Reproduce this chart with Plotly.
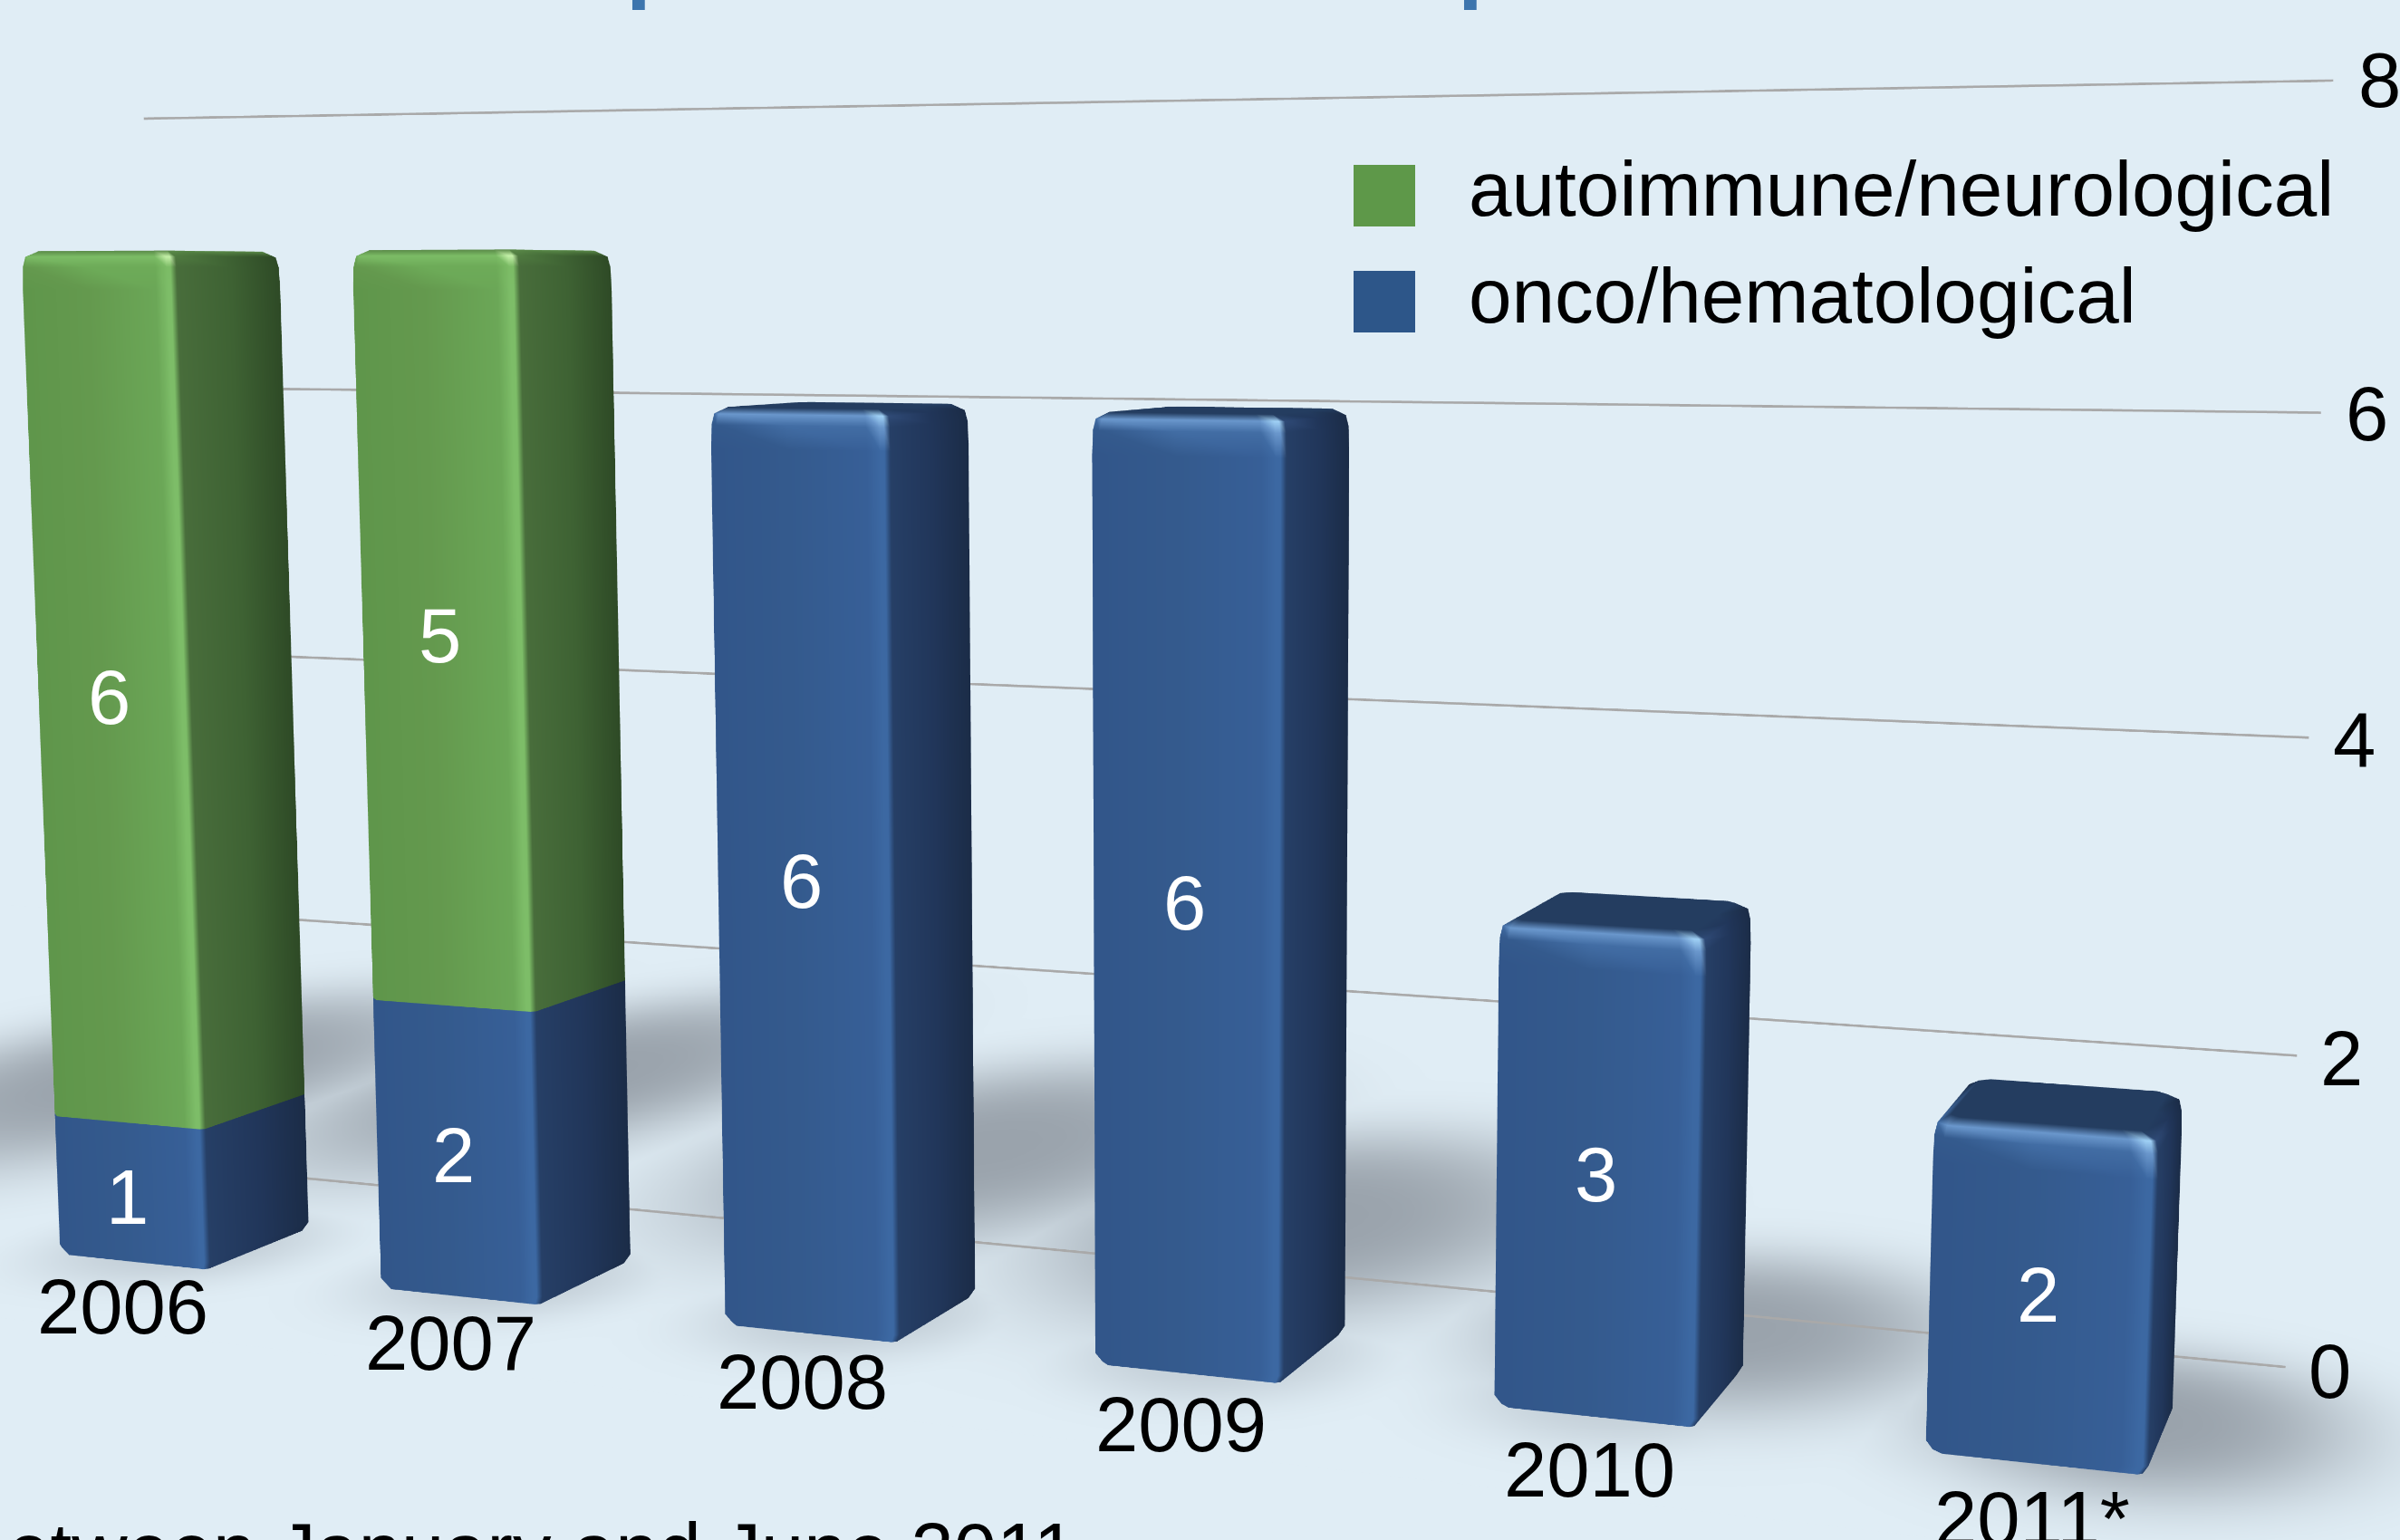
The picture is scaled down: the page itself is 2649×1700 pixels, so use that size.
import math
import numpy as np
import plotly.graph_objects as go

# ---- data ----
years = ["2006", "2007", "2008", "2009", "2010", "2011*"]
onco_hematological = [1, 2, 6, 6, 3, 2]
autoimmune_neurological = [6, 5, 0, 0, 0, 0]
z_ticks = [0, 2, 4, 6, 8]

# ---- styles / layout ----
BG = "#e0edf5"
W, H, TOP = 2649, 3500, 900
BAR_X0, PITCH, BAR_W, BAR_D, BAR_Y0 = -14.95, 2.625, 1.28, 1.30, -2.6
XR, YR, ZR = [-26.0, 2.0], [-4.0, 10.0], [-0.1, 8.5]
K = 0.1
BLUE = dict(f0="#32568a", f1="#345a8d", f2="#375f97", f3="#3c68a2", s0="#263f66", s1="#21365a", s2="#1b2c47",
            mf="#426da4", hf="#6a97cc", hc="#9fd0f5", hs="#2f4a76", top="#243d60")
GREEN = dict(f0="#5f964b", f1="#64994e", f2="#6ba757", f3="#7dbd68", s0="#486d3b", s1="#3e6233", s2="#2e4a26",
             mf="#6dab58", hf="#7cbc66", hc="#c4f0a8", hs="#4f7a40", top="#5a8a48")
LIT = dict(ambient=1, diffuse=0, specular=0, fresnel=0, roughness=1)


def ring(w, d, x0, y0, z, inset):
    r, rc = 0.07, 0.028
    pts = [(0, r), (r, 0), (w * .45, 0), (w * .88, 0), (w - rc - .03, 0), (w - rc, 0), (w, rc), (w, d * .5),
           (w, d - r), (w - r, d), (r, d), (0, d - r)]
    sx, sy = 1 - 2 * inset / w, 1 - 2 * inset / d
    return [(x0 + w / 2 + (px - w / 2) * sx, y0 + d / 2 + (py - d / 2) * sy, z) for px, py in pts]


def ring_colors(pal, mode):
    if mode == "base":
        return [pal["f0"], pal["f0"], pal["f1"], pal["f2"], pal["f3"], pal["f3"], pal["s0"], pal["s1"],
                pal["s2"], pal["s2"], pal["s2"], pal["s2"]]
    if mode == "mid":
        return [pal["f1"], pal["f1"], pal["mf"], pal["mf"], pal["hf"], pal["hf"], pal["s0"], pal["s1"],
                pal["s2"], pal["s2"], pal["s2"], pal["s2"]]
    if mode == "hi":
        return [pal["mf"], pal["hf"], pal["hf"], pal["hf"], pal["hc"], pal["hc"], pal["hs"], pal["s1"],
                pal["s2"], pal["s2"], pal["s2"], pal["s2"]]
    return [pal["top"]] * 12


def segment(x0, zlo, zhi, pal, name, bottom, top):
    rows = []
    if bottom:
        rows += [(zlo, .035, "base"), (zlo + .06, 0, "base")]
    else:
        rows += [(zlo, 0, "base")]
    if top:
        rows += [(zhi - .26, 0, "base"), (zhi - .11, .004, "mid"), (zhi - .04, .018, "hi"), (zhi, .085, "top")]
    else:
        rows += [(zhi, 0, "base")]
    xs, ys, zs, cols, ii, jj, kk = [], [], [], [], [], [], []
    n = 12
    for z, ins, mode in rows:
        for p in ring(BAR_W, BAR_D, x0, BAR_Y0, z, ins):
            xs.append(p[0]); ys.append(p[1]); zs.append(p[2])
        cols += ring_colors(pal, mode)
    for r in range(len(rows) - 1):
        for a in range(n):
            b = (a + 1) % n
            p, q, s, t = r * n + a, r * n + b, (r + 1) * n + a, (r + 1) * n + b
            ii += [p, q]; jj += [q, t]; kk += [s, s]
    last = (len(rows) - 1) * n
    xs.append(x0 + BAR_W / 2); ys.append(BAR_Y0 + BAR_D / 2); zs.append(rows[-1][0])
    cols.append(pal["top"] if top else cols[last])
    c = len(xs) - 1
    for a in range(n):
        ii.append(c); jj.append(last + a); kk.append(last + (a + 1) % n)
    return go.Mesh3d(x=xs, y=ys, z=zs, i=ii, j=jj, k=kk, vertexcolor=cols, name=name,
                     flatshading=False, showscale=False, hoverinfo="skip", lighting=LIT)


traces = []

# soft floor shadows behind the bars (decoration)
shadow_spots = [(-18.1, 3.0, 2.1, 4.0, 1), (-14.6, 4.2, 1.8, 4.0, 1), (-10.2, 2.9, 1.9, 3.5, 1),
                (-7.0, 1.6, 1.8, 3.0, 1), (-3.5, -.25, 1.5, 2.0, 1), (-.71, -1.39, 1.25, 1.6, 1)]
for i in range(len(years)):
    shadow_spots.append((BAR_X0 + PITCH * i + BAR_W / 2, BAR_Y0 + BAR_D / 2, .95, 1.12, .42))
sx = np.linspace(XR[0], XR[1], 220)
sy = np.linspace(YR[0], YR[1], 150)
GX, GY = np.meshgrid(sx, sy)
S = np.zeros_like(GX)
for cx, cy, wx, wy, amp in shadow_spots:
    S = np.maximum(S, amp * np.exp(-(((GX - cx) / wx) ** 2 + ((GY - cy) / wy) ** 2) ** 1.5))
traces.append(go.Surface(x=sx, y=sy, z=np.full_like(GX, -0.03), surfacecolor=S, cmin=0, cmax=1,
                         colorscale=[[0, BG], [1, "#9aa3ac"]], showscale=False, hoverinfo="skip", lighting=LIT))

# gridlines on the back wall
for t in z_ticks:
    traces.append(go.Scatter3d(x=[-15.74, 0], y=[0, 0], z=[t, t], mode="lines",
                               line=dict(color="#a9a9a9", width=5), hoverinfo="skip", showlegend=False))

# stacked bars
annots = []
for i, yr in enumerate(years):
    x0 = BAR_X0 + PITCH * i
    v1, v2 = onco_hematological[i], autoimmune_neurological[i]
    traces.append(segment(x0, 0, v1, BLUE, "onco/hematological", True, v2 == 0))
    dx = .63
    dz = -.03 + .008 * i
    annots.append(dict(x=x0 + dx, y=BAR_Y0 + .01, z=v1 / 2 + dz, text=str(v1)))
    if v2:
        traces.append(segment(x0, v1, v1 + v2, GREEN, "autoimmune/neurological", False, True))
        annots.append(dict(x=x0 + dx, y=BAR_Y0 + .01, z=v1 + v2 / 2 + dz, text=str(v2)))

FONT = "Liberation Sans"
scene_ann = []
for a in annots:
    scene_ann.append(dict(a, showarrow=False, font=dict(family=FONT, size=85, color="white"),
                          xanchor="center", yanchor="middle"))
for i, yr in enumerate(years):
    scene_ann.append(dict(x=BAR_X0 + PITCH * i + 1.29 - .104 * i, y=-3.58, z=0, text=yr, showarrow=False,
                          font=dict(family=FONT, size=85, color="black"), xanchor="center", yanchor="middle"))
for t in z_ticks:
    scene_ann.append(dict(x=.27, y=0, z=t, text=str(t), showarrow=False,
                          font=dict(family=FONT, size=85, color="black"), xanchor="center", yanchor="middle"))

# camera
yaw, pitch = math.radians(20.5), math.radians(7.3)
F = np.array([-math.sin(yaw) * math.cos(pitch), math.cos(yaw) * math.cos(pitch), -math.sin(pitch)])
C = np.array([1.806, -24.39, 6.806])
mid = np.array([sum(XR) / 2, sum(YR) / 2, sum(ZR) / 2])
eye = (C - mid) * K
center = eye + F


def hide():
    return dict(visible=False, showgrid=False, zeroline=False, showticklabels=False, showbackground=False,
                showspikes=False)


def px(p):
    return p / W


def py(p):
    return 1 - (p + TOP) / H


legend_items = [("autoimmune/neurological", "#5e9849", 182, 238), ("onco/hematological", "#2d5689", 299, 356)]
shapes, paper_ann = [], []
for label, col, top_px, base_px in legend_items:
    shapes.append(dict(type="rect", xref="paper", yref="paper", x0=px(1494), x1=px(1562), y0=py(top_px + 68), y1=py(top_px),
                       fillcolor=col, line=dict(width=0)))
    paper_ann.append(dict(xref="paper", yref="paper", x=px(1619), y=py(base_px + 20), text=label, showarrow=False,
                          xanchor="left", yanchor="bottom", font=dict(family=FONT, size=85.5, color="black")))
for xp in (689, 1607):
    paper_ann.append(dict(xref="paper", yref="paper", x=px(xp), y=py(13), text="p", showarrow=False,
                          xanchor="left", yanchor="bottom",
                          font=dict(family=FONT, size=100, color="#3d75ad", weight="bold")))
paper_ann.append(dict(xref="paper", yref="paper", x=px(1190), y=py(1761), text="between January and June 2011",
                      showarrow=False, xanchor="right", yanchor="bottom",
                      font=dict(family=FONT, size=85, color="black")))

fig = go.Figure(traces)
fig.update_layout(
    width=W, height=H, margin=dict(l=0, r=0, t=0, b=0), paper_bgcolor=BG, showlegend=False,
    shapes=shapes, annotations=paper_ann,
    scene=dict(
        domain=dict(x=[0, 1], y=[0, 1]), bgcolor="rgba(0,0,0,0)",
        xaxis=dict(range=XR, **hide()), yaxis=dict(range=YR, **hide()), zaxis=dict(range=ZR, **hide()),
        aspectmode="manual",
        aspectratio=dict(x=(XR[1] - XR[0]) * K, y=(YR[1] - YR[0]) * K, z=(ZR[1] - ZR[0]) * K),
        camera=dict(eye=dict(x=eye[0], y=eye[1], z=eye[2]), center=dict(x=center[0], y=center[1], z=center[2]),
                    up=dict(x=0, y=0, z=1), projection=dict(type="perspective")),
        annotations=scene_ann,
    ),
)
post = ("document.body.style.margin='0';document.documentElement.style.overflow='hidden';"
        "document.body.style.overflow='hidden';var g=document.querySelector('.plotly-graph-div');"
        "g.style.position='absolute';g.style.left='0';g.style.top='-%dpx';" % TOP)
fig.write_html("out.html", post_script=post, config=dict(displayModeBar=False))
